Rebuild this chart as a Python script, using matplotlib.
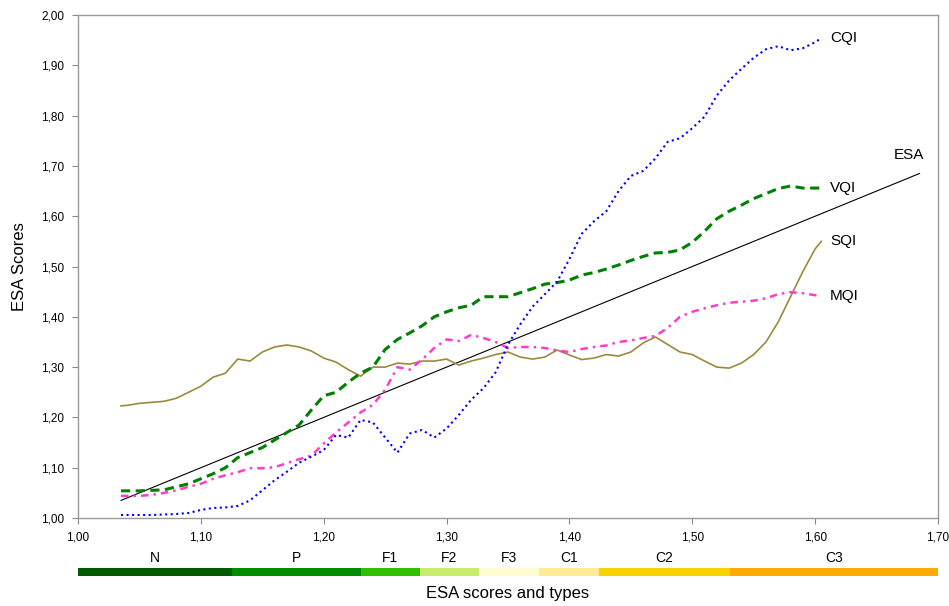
import numpy as np
import matplotlib
matplotlib.use("Agg")
import matplotlib.pyplot as plt

plt.rcParams['font.family'] = ['Liberation Sans', 'DejaVu Sans']

# x grid of the scores (ESA)
esa_x = [1.035] + list(np.round(np.arange(1.04, 1.601, 0.01), 2)) + [1.605]

cqi = [1.006, 1.006, 1.006, 1.006, 1.007, 1.008, 1.010, 1.016, 1.020, 1.021,
       1.024, 1.035, 1.055, 1.075, 1.092, 1.110, 1.122, 1.135, 1.165, 1.160,
       1.195, 1.190, 1.160, 1.130, 1.168, 1.175, 1.160, 1.178, 1.205, 1.235,
       1.258, 1.290, 1.345, 1.385, 1.420, 1.445, 1.470, 1.515, 1.565, 1.590,
       1.610, 1.650, 1.680, 1.690, 1.715, 1.748, 1.755, 1.775, 1.798, 1.840,
       1.870, 1.893, 1.915, 1.932, 1.938, 1.930, 1.934, 1.946, 1.954]

vqi = [1.054, 1.054, 1.054, 1.055, 1.056, 1.062, 1.068, 1.078, 1.088, 1.100,
       1.120, 1.130, 1.140, 1.155, 1.170, 1.185, 1.215, 1.243, 1.250, 1.270,
       1.288, 1.300, 1.335, 1.355, 1.368, 1.382, 1.400, 1.410, 1.418, 1.423,
       1.440, 1.440, 1.440, 1.448, 1.456, 1.465, 1.468, 1.473, 1.483, 1.488,
       1.495, 1.503, 1.512, 1.520, 1.527, 1.528, 1.533, 1.548, 1.570, 1.595,
       1.610, 1.622, 1.635, 1.645, 1.655, 1.660, 1.656, 1.656, 1.656]

mqi = [1.044, 1.044, 1.044, 1.046, 1.050, 1.055, 1.062, 1.068, 1.078, 1.085,
       1.091, 1.099, 1.099, 1.101, 1.109, 1.117, 1.124, 1.148, 1.170, 1.190,
       1.210, 1.225, 1.255, 1.300, 1.295, 1.315, 1.338, 1.355, 1.352, 1.364,
       1.358, 1.350, 1.338, 1.340, 1.340, 1.338, 1.333, 1.330, 1.336, 1.340,
       1.343, 1.350, 1.353, 1.358, 1.362, 1.378, 1.400, 1.410, 1.417, 1.423,
       1.428, 1.430, 1.432, 1.437, 1.445, 1.449, 1.447, 1.443, 1.441]

sqi = [1.223, 1.224, 1.228, 1.230, 1.232, 1.238, 1.250, 1.262, 1.280, 1.288,
       1.316, 1.312, 1.330, 1.340, 1.344, 1.340, 1.332, 1.318, 1.310, 1.295,
       1.282, 1.300, 1.300, 1.308, 1.306, 1.312, 1.312, 1.316, 1.304, 1.312,
       1.318, 1.325, 1.330, 1.320, 1.316, 1.320, 1.334, 1.324, 1.315, 1.318,
       1.325, 1.322, 1.330, 1.348, 1.360, 1.345, 1.330, 1.325, 1.312, 1.300,
       1.298, 1.308, 1.325, 1.350, 1.390, 1.440, 1.490, 1.535, 1.550]

# reference line ESA = ESA
esa_line = [1.035, 1.685]

# ESA types along the x axis
type_names = ['N', 'P', 'F1', 'F2', 'F3', 'C1', 'C2', 'C3']
type_edges = [1.00, 1.125, 1.23, 1.278, 1.326, 1.375, 1.424, 1.531, 1.70]
type_colors = ['#005a00', '#008c00', '#30c000', '#c8eb6e',
               '#fffcd2', '#ffeb96', '#fad200', '#ffaa00']

xticks = np.round(np.arange(1.0, 1.701, 0.1), 2)
yticks = np.round(np.arange(1.0, 2.001, 0.1), 2)


def comma(v):
    return f"{v:.2f}".replace('.', ',')


fig = plt.figure(figsize=(9.49, 6.06), dpi=100)
ax = fig.add_axes([0.0822, 0.1452, 0.9062, 0.830])

ax.plot(esa_line, esa_line, color='black', lw=0.8)
ax.plot(esa_x, sqi, color='#9c8a3c', lw=1.2)
ax.plot(esa_x, mqi, color='#ff3ccf', lw=1.8, dashes=(3, 2, 1, 2))
ax.plot(esa_x, vqi, color='#008000', lw=2.2, dashes=(3, 1.8))
ax.plot(esa_x, cqi, color='#0000ff', lw=1.5, linestyle=':')

# series labels
ax.text(1.612, cqi[-1], 'CQI', fontsize=11, va='center')
ax.text(1.612, vqi[-1], 'VQI', fontsize=11, va='center')
ax.text(1.612, sqi[-1], 'SQI', fontsize=11, va='center')
ax.text(1.612, mqi[-1], 'MQI', fontsize=11, va='center')
ax.text(1.664, 1.722, 'ESA', fontsize=11, va='center')

ax.set_xlim(1.0, 1.7)
ax.set_ylim(1.0, 2.0)
ax.set_xticks(xticks)
ax.set_xticklabels([comma(v) for v in xticks], fontsize=8.5)
ax.set_yticks(yticks)
ax.set_yticklabels([comma(v) for v in yticks], fontsize=8.5)
ax.tick_params(direction='out', length=4, color='#888888', pad=6)
for s in ax.spines.values():
    s.set_color('#999999')
    s.set_linewidth(1.0)
ax.set_ylabel('ESA Scores', fontsize=12, labelpad=10)

# colour strip with the ESA types
cax = fig.add_axes([0.0822, 0.0495, 0.9062, 0.0132])
for i, name in enumerate(type_names):
    cax.axvspan(type_edges[i], type_edges[i + 1], color=type_colors[i], lw=0)
    mid = (type_edges[i] + type_edges[i + 1]) / 2
    cax.text(mid, 2.3, name, ha='center', va='center', fontsize=10)
cax.set_xlim(1.0, 1.7)
cax.set_ylim(0, 1)
cax.axis('off')
fig.text(0.535, 0.02, 'ESA scores and types', ha='center', va='center', fontsize=12)

plt.savefig('out.png', dpi=100)
